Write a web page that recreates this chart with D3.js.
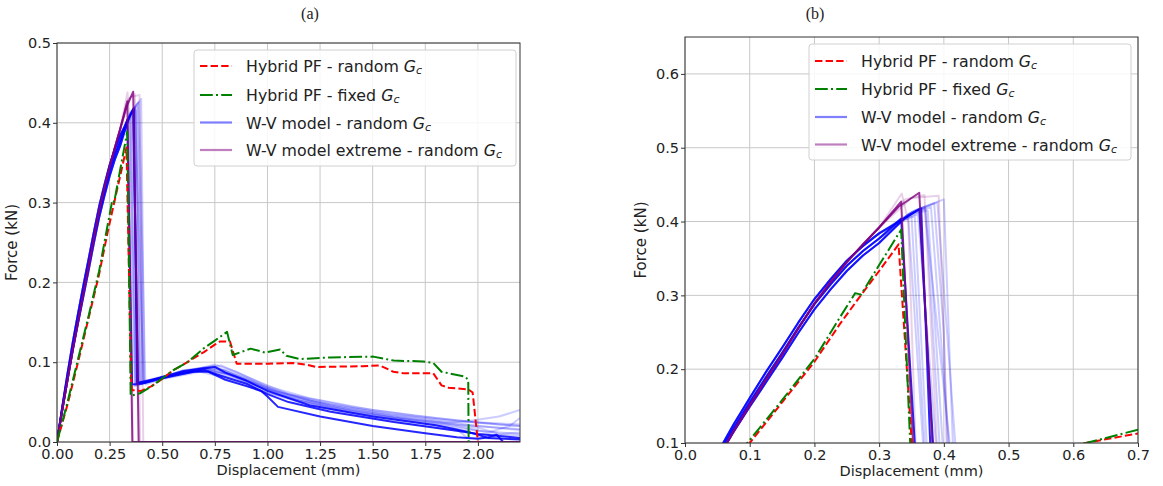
<!DOCTYPE html>
<html><head><meta charset="utf-8">
<script src="https://cdn.jsdelivr.net/npm/d3@7"></script>
<style>
body{margin:0;background:#fff}
svg text{font-family:"DejaVu Sans",sans-serif;fill:#222}
</style>
</head><body>
<svg id="chart" width="1163" height="486"></svg>
<script>
// ---------------- DATA ----------------
const xTicksA = [0, 0.25, 0.5, 0.75, 1.0, 1.25, 1.5, 1.75, 2.0];
const yTicksA = [0, 0.1, 0.2, 0.3, 0.4, 0.5];
const xTicksB = [0, 0.1, 0.2, 0.3, 0.4, 0.5, 0.6, 0.7];
const yTicksB = [0.1, 0.2, 0.3, 0.4, 0.5, 0.6];
const panelTitles = ["(a)", "(b)"];
const legendLabels = [
  ["Hybrid PF - random ", "G", "c"],
  ["Hybrid PF - fixed ", "G", "c"],
  ["W-V model - random ", "G", "c"],
  ["W-V model extreme - random ", "G", "c"]
];

// Hybrid PF - random Gc  [displacement (mm), force (kN)]
const hybridRandom = [[0,0],[0.05,0.047],[0.1,0.1],[0.15,0.155],[0.2,0.21],[0.24,0.262],[0.27,0.298],[0.3,0.333],
  [0.33,0.369],[0.352,0.08],[0.356,0.065],[0.4,0.064],[0.45,0.07],[0.5,0.079],[0.553,0.09],[0.6,0.097],[0.65,0.105],
  [0.7,0.113],[0.75,0.122],[0.774,0.126],[0.822,0.126],[0.854,0.098],[1.0,0.098],[1.12,0.099],[1.183,0.097],[1.23,0.094],
  [1.45,0.095],[1.534,0.096],[1.598,0.088],[1.65,0.086],[1.788,0.086],[1.827,0.071],[1.86,0.068],[1.954,0.066],
  [1.975,0.062],[2.0,0.0]];
// Hybrid PF - fixed Gc
const hybridFixed = [[0,0],[0.05,0.05],[0.1,0.104],[0.15,0.158],[0.2,0.214],[0.24,0.271],[0.263,0.303],[0.272,0.301],
  [0.3,0.341],[0.334,0.389],[0.35,0.058],[0.394,0.061],[0.45,0.07],[0.553,0.09],[0.62,0.1],[0.7,0.118],[0.75,0.127],
  [0.808,0.138],[0.835,0.109],[0.92,0.117],[0.99,0.112],[1.06,0.116],[1.09,0.108],[1.154,0.104],[1.3,0.106],
  [1.503,0.107],[1.6,0.102],[1.74,0.101],[1.788,0.099],[1.827,0.088],[1.938,0.082],[1.954,0.078],[1.956,0.0]];

// W-V model pre-peak loading paths
const wvRiseMid  = [[0,0],[0.025,0.042],[0.05,0.082],[0.075,0.12],[0.1,0.155],[0.125,0.189],[0.15,0.222],[0.175,0.256],
  [0.2,0.288],[0.225,0.315],[0.25,0.34],[0.275,0.36],[0.3,0.377]];
const wvRiseHigh = [[0,0],[0.025,0.044],[0.05,0.086],[0.075,0.125],[0.1,0.161],[0.125,0.196],[0.15,0.229],[0.175,0.263],
  [0.2,0.295],[0.225,0.322],[0.25,0.347],[0.275,0.367],[0.3,0.384]];
const wvRiseLow  = [[0,0],[0.025,0.04],[0.05,0.078],[0.075,0.115],[0.1,0.149],[0.125,0.182],[0.15,0.215],[0.175,0.249],
  [0.2,0.281],[0.225,0.308],[0.25,0.333],[0.275,0.354],[0.3,0.371]];
const wvRiseExtreme = [[0,0],[0.025,0.04],[0.05,0.078],[0.075,0.116],[0.1,0.151],[0.125,0.186],[0.15,0.22],[0.175,0.255],
  [0.2,0.289],[0.225,0.318],[0.25,0.345],[0.275,0.369],[0.3,0.392]];

// W-V model - random Gc : post-peak branches, strong and faint realisations
const wvStrong = [
  [[0.334,0.404],[0.357,0.072],[0.40,0.073],[0.5,0.080],[0.65,0.088],[0.72,0.088],[0.8,0.078],[0.9,0.070],[0.97,0.064],
   [1.0,0.057],[1.05,0.044],[1.25,0.032],[1.5,0.020],[1.75,0.011],[1.9,0.006],[2.0,0.004],[2.05,0.006],[2.09,0.009],[2.12,0],[2.2,0]],
  [[0.34,0.405],[0.362,0.417],[0.385,0.074],[0.42,0.075],[0.6,0.089],[0.75,0.094],[0.8,0.087],[0.9,0.077],[1.0,0.064],
   [1.2,0.046],[1.5,0.032],[1.8,0.021],[1.95,0.013],[2.05,0.005],[2.2,0.003]],
  [[0.34,0.405],[0.365,0.418],[0.38,0.074],[0.45,0.078],[0.6,0.087],[0.7,0.09],[0.78,0.083],[0.9,0.073],[1.0,0.06],
   [1.1,0.05],[1.3,0.038],[1.6,0.025],[1.9,0.014],[2.0,0.01],[2.2,0.005]]
];
const wvFaint = [
  [[0.345,0.41],[0.37,0.42],[0.412,0.075],[0.5,0.082],[0.7,0.093],[0.8,0.09],[0.9,0.08],[1.0,0.068],[1.2,0.052],[1.5,0.038],[1.8,0.027],[2.0,0.02],[2.2,0.015]],
  [[0.35,0.412],[0.39,0.426],[0.42,0.072],[0.55,0.084],[0.75,0.097],[0.85,0.088],[1.0,0.07],[1.2,0.055],[1.5,0.04],[1.8,0.03],[2.1,0.022],[2.2,0.02]],
  [[0.33,0.40],[0.345,0.405],[0.37,0.07],[0.5,0.08],[0.7,0.092],[0.85,0.08],[1.0,0.062],[1.3,0.042],[1.6,0.03],[1.9,0.02],[2.05,0.012],[2.15,0.02],[2.2,0.03]],
  [[0.35,0.41],[0.375,0.415],[0.40,0.073],[0.6,0.088],[0.75,0.094],[0.9,0.078],[1.1,0.058],[1.4,0.04],[1.7,0.028],[2.0,0.018],[2.1,0.01],[2.2,0.012]],
  [[0.355,0.415],[0.40,0.43],[0.415,0.074],[0.6,0.09],[0.78,0.096],[0.9,0.082],[1.1,0.06],[1.4,0.044],[1.7,0.033],[2.0,0.024],[2.2,0.02]],
  [[0.34,0.405],[0.36,0.41],[0.39,0.075],[0.55,0.085],[0.72,0.092],[0.85,0.082],[1.0,0.066],[1.3,0.045],[1.6,0.032],[1.85,0.024],[1.95,0.026],[2.1,0.032],[2.2,0.04]],
  [[0.345,0.408],[0.38,0.42],[0.41,0.074],[0.5,0.081],[0.7,0.09],[0.82,0.085],[0.95,0.072],[1.1,0.055],[1.4,0.037],[1.7,0.025],[1.9,0.016],[1.95,0.005],[2.2,0.004]],
  [[0.34,0.402],[0.355,0.408],[0.375,0.072],[0.45,0.077],[0.65,0.09],[0.76,0.091],[0.88,0.078],[1.05,0.06],[1.3,0.044],[1.6,0.031],[1.9,0.022],[2.2,0.016]],
  [[0.35,0.413],[0.385,0.425],[0.40,0.25],[0.405,0.074],[0.6,0.089],[0.74,0.095],[0.9,0.079],[1.05,0.063],[1.3,0.047],[1.6,0.034],[1.9,0.026],[2.2,0.022]],
  [[0.345,0.41],[0.372,0.418],[0.395,0.073],[0.55,0.083],[0.7,0.091],[0.8,0.086],[0.95,0.07],[1.15,0.052],[1.45,0.036],[1.75,0.024],[2.0,0.014],[2.2,0.01]],
  [[0.34,0.404],[0.35,0.407],[0.372,0.071],[0.5,0.079],[0.68,0.088],[0.78,0.082],[0.95,0.066],[1.2,0.046],[1.5,0.03],[1.8,0.018],[2.0,0.01],[2.2,0.008]]
];
// W-V model extreme - random Gc : post-peak branches
const wvExtremeStrong = [
  [[0.334,0.427],[0.358,0.0],[2.2,0.0]],
  [[0.33,0.42],[0.362,0.439],[0.388,0.0],[2.2,0.0]]
];
const wvExtremeFaint = [
  [[0.335,0.438],[0.345,0.40],[0.36,0.0],[2.2,0.0]],
  [[0.35,0.432],[0.392,0.435],[0.41,0.0],[2.2,0.0]],
  [[0.34,0.43],[0.37,0.436],[0.395,0.0],[2.2,0.0]]
];

// ---------------- DRAWING ----------------
const svg = d3.select("#chart");
const C = {red:"#ff0000", green:"#008000", blue:"#0000ff", purple:"#800080", grid:"#c8c8c8", spine:"#333"};

const panels = [
  {l:57, r:520, t:43, b:442, xd:[0,2.2], yd:[0,0.5], xt:xTicksA, yt:yTicksA, xf:".2f", yf:".1f",
   title:panelTitles[0], tx:310, legend:{x:194, y:50, w:322, h:116, rowY:[66,95,122.5,150]}, ylabX:12},
  {l:685, r:1138, t:37, b:443, xd:[0,0.7], yd:[0.1,0.65], xt:xTicksB, yt:yTicksB, xf:".1f", yf:".1f",
   title:panelTitles[1], tx:815, legend:{x:809, y:44, w:322, h:116, rowY:[61,89,117,144.5]}, ylabX:641}
];

const sources = [];
const riseFor = [wvRiseMid, wvRiseHigh, wvRiseLow];
wvFaint.forEach((post,i)=>sources.push({pts: riseFor[i%3].concat(post), color:C.blue, op:0.2, w:2}));
wvExtremeFaint.forEach((post)=>sources.push({pts: wvRiseExtreme.concat(post), color:C.purple, op:0.18, w:2}));
wvStrong.forEach((post,i)=>sources.push({pts: riseFor[i%3].concat(post), color:C.blue, op:0.85, w:2}));
wvExtremeStrong.forEach((post)=>sources.push({pts: wvRiseExtreme.concat(post), color:C.purple, op:0.8, w:2}));
sources.push({pts:hybridRandom, color:C.red, op:1, w:2, dash:"7.4,3.2"});
sources.push({pts:hybridFixed, color:C.green, op:1, w:2, dash:"12.8,3.2,2,3.2"});

panels.forEach((p,pi)=>{
  const x = d3.scaleLinear().domain(p.xd).range([p.l,p.r]);
  const y = d3.scaleLinear().domain(p.yd).range([p.b,p.t]);
  const g = svg.append("g");
  const clipId = "clip"+pi;
  svg.append("clipPath").attr("id",clipId).append("rect")
    .attr("x",p.l).attr("y",p.t).attr("width",p.r-p.l).attr("height",p.b-p.t);

  // grid
  g.append("g").selectAll("line").data(p.xt).join("line")
    .attr("x1",d=>x(d)).attr("x2",d=>x(d)).attr("y1",p.t).attr("y2",p.b)
    .attr("stroke",C.grid).attr("stroke-width",1);
  g.append("g").selectAll("line").data(p.yt).join("line")
    .attr("y1",d=>y(d)).attr("y2",d=>y(d)).attr("x1",p.l).attr("x2",p.r)
    .attr("stroke",C.grid).attr("stroke-width",1);

  // curves
  const line = d3.line().x(d=>x(d[0])).y(d=>y(d[1]));
  const cg = g.append("g").attr("clip-path",`url(#${clipId})`);
  sources.forEach(s=>{
    cg.append("path").attr("d",line(s.pts)).attr("fill","none")
      .attr("stroke",s.color).attr("stroke-opacity",s.op).attr("stroke-width",s.w)
      .attr("stroke-linejoin","round")
      .attr("stroke-dasharray",s.dash||null);
  });

  // axes
  const xa = d3.axisBottom(x).tickValues(p.xt).tickFormat(d3.format(p.xf)).tickSize(4).tickPadding(3);
  const ya = d3.axisLeft(y).tickValues(p.yt).tickFormat(d3.format(p.yf)).tickSize(4).tickPadding(2);
  const gx = g.append("g").attr("transform",`translate(0,${p.b})`).call(xa);
  const gy = g.append("g").attr("transform",`translate(${p.l},0)`).call(ya);
  [gx,gy].forEach(a=>{
    a.select(".domain").remove();
    a.selectAll(".tick line").attr("stroke",C.spine);
    a.selectAll(".tick text").attr("font-size",14.5).attr("fill","#222").style("font-family","DejaVu Sans");
  });
  // frame
  g.append("rect").attr("x",p.l).attr("y",p.t).attr("width",p.r-p.l).attr("height",p.b-p.t)
    .attr("fill","none").attr("stroke",C.spine).attr("stroke-width",1);

  // labels
  g.append("text").attr("x",(p.l+p.r)/2).attr("y",p.b+33).attr("text-anchor","middle")
    .attr("font-size",14.5).text("Displacement (mm)");
  g.append("text").attr("transform",`translate(${p.ylabX},${(p.t+p.b)/2}) rotate(-90)`)
    .attr("text-anchor","middle").attr("dominant-baseline","central")
    .attr("font-size",15).text("Force (kN)");
  g.append("text").attr("x",p.tx).attr("y",19).attr("text-anchor","middle")
    .style("font-family","'Liberation Serif',serif").attr("font-size",16).text(p.title);

  // legend
  const L = p.legend;
  const lg = g.append("g");
  lg.append("rect").attr("x",L.x).attr("y",L.y).attr("width",L.w).attr("height",L.h).attr("rx",3)
    .attr("fill","#fff").attr("fill-opacity",0.85).attr("stroke","#d0d0d0");
  const handles = [
    {color:C.red, op:1, dash:"7.4,3.2"},
    {color:C.green, op:1, dash:"12.8,3.2,2,3.2"},
    {color:C.blue, op:0.5, dash:null},
    {color:C.purple, op:0.5, dash:null}
  ];
  legendLabels.forEach((lab,i)=>{
    const yy = L.rowY[i];
    lg.append("line").attr("x1",L.x+6).attr("x2",L.x+38).attr("y1",yy).attr("y2",yy)
      .attr("stroke",handles[i].color).attr("stroke-opacity",handles[i].op).attr("stroke-width",2.2)
      .attr("stroke-dasharray",handles[i].dash);
    const t = lg.append("text").attr("x",L.x+52).attr("y",yy).attr("dominant-baseline","central")
      .attr("font-size",15.8);
    t.append("tspan").text(lab[0]);
    t.append("tspan").attr("font-style","italic").text(lab[1]);
    t.append("tspan").attr("font-style","italic").attr("font-size",11).attr("dy",4).text(lab[2]);
  });
});
</script>
</body></html>
